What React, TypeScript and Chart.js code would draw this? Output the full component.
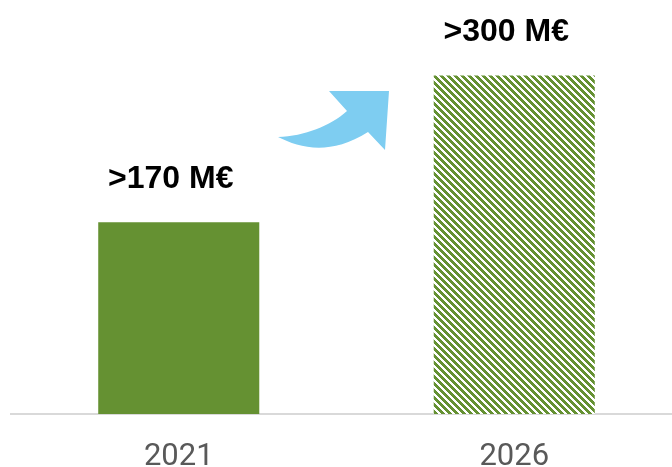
import React, { useEffect, useRef } from "react";
import { Chart, registerables } from "chart.js";

Chart.register(...registerables);

const categories = ["2021", "2026"];
const values = [170, 300];
const valueLabels = [">170 M€", ">300 M€"];

const GREEN = "#659132";

function makeHatch(): CanvasPattern | string {
  const s = 7;
  const w = 4;
  const c = document.createElement("canvas");
  c.width = s;
  c.height = s;
  const ctx = c.getContext("2d");
  if (!ctx) return GREEN;
  const img = ctx.createImageData(s, s);
  for (let y = 0; y < s; y++) {
    for (let x = 0; x < s; x++) {
      const i = (y * s + x) * 4;
      const on = (((x - y) % s) + s) % s < w;
      img.data[i] = on ? 0x65 : 255;
      img.data[i + 1] = on ? 0x91 : 255;
      img.data[i + 2] = on ? 0x32 : 255;
      img.data[i + 3] = 255;
    }
  }
  ctx.putImageData(img, 0, 0);
  const p = ctx.createPattern(c, "repeat");
  return p || GREEN;
}

const labelPlugin = {
  id: "valueLabels",
  afterDatasetsDraw(chart: any) {
    const ctx = chart.ctx;
    const meta = chart.getDatasetMeta(0);
    ctx.save();
    ctx.font = "bold 32px 'Liberation Sans', Arial, sans-serif";
    ctx.fillStyle = "#000000";
    ctx.textAlign = "center";
    ctx.textBaseline = "middle";
    meta.data.forEach((bar: any, i: number) => {
      ctx.fillText(valueLabels[i], bar.x - 8, bar.y - 43);
    });
    ctx.restore();
  },
};

const arrowPlugin = {
  id: "growthArrow",
  afterDatasetsDraw(chart: any) {
    const ctx = chart.ctx;
    ctx.save();
    ctx.fillStyle = "#7ECDF1";
    ctx.beginPath();
    ctx.moveTo(278, 137);
    ctx.bezierCurveTo(300, 148, 330, 156, 368, 132);
    ctx.lineTo(385, 150);
    ctx.lineTo(389, 91);
    ctx.lineTo(329, 91);
    ctx.lineTo(347, 111);
    ctx.bezierCurveTo(330, 126, 305, 136, 278, 137);
    ctx.closePath();
    ctx.fill();
    ctx.restore();
  },
};

export default function App() {
  const ref = useRef<HTMLCanvasElement>(null);
  useEffect(() => {
    document.body.style.margin = "0";
    const canvas = ref.current;
    if (!canvas) return;
    const hatch = makeHatch();
    const chart = new Chart(canvas, {
      type: "bar",
      data: {
        labels: categories,
        datasets: [
          {
            data: values,
            backgroundColor: [GREEN, hatch as any],
            borderWidth: 0,
            barPercentage: 0.48,
            categoryPercentage: 1,
          },
        ],
      },
      options: {
        animation: false,
        responsive: false,
        maintainAspectRatio: false,
        layout: { padding: { left: 11, right: 0, top: 0, bottom: 0 } },
        plugins: { legend: { display: false }, tooltip: { enabled: false } },
        scales: {
          x: {
            grid: { display: false, drawTicks: false },
            border: { display: true, color: "#d9d9d9", width: 2 },
            ticks: {
              color: "#595959",
              font: { family: "Roboto, 'Liberation Sans', sans-serif", size: 31 },
              padding: 25,
            },
            afterFit(scale: any) {
              scale.height = 53;
            },
          },
          y: {
            display: false,
            min: 0,
            max: 367,
          },
        },
      },
      plugins: [labelPlugin, arrowPlugin],
    });
    return () => chart.destroy();
  }, []);
  return (
    <div style={{ width: 672, height: 467, overflow: "hidden", position: "relative", background: "#fff" }}>
      <canvas ref={ref} width={682} height={467} style={{ display: "block", width: 682, height: 467 }} />
    </div>
  );
}
